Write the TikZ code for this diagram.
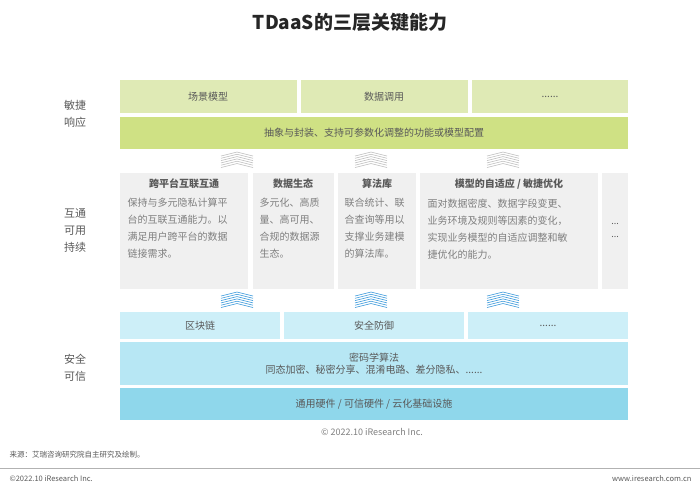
\documentclass[tikz,border=0pt]{standalone}
\usepackage{fontspec}
\setmainfont{Noto Sans CJK SC}
\newfontfamily\cjkb[FakeBold=2]{Noto Sans CJK SC Bold}
\definecolor{gA}{HTML}{DFEAB5}
\definecolor{gB}{HTML}{CFE184}
\definecolor{gC}{HTML}{F0F0F0}
\definecolor{bA}{HTML}{CDEFF8}
\definecolor{bB}{HTML}{B7E7F4}
\definecolor{bC}{HTML}{8FD7EB}
\definecolor{tx}{HTML}{595959}
\definecolor{tl}{HTML}{7F7F7F}
\tikzset{
 lbl/.style={text=tx,font=\fontsize{10}{12}\selectfont},
 ttl/.style={text=tx,font=\fontsize{10}{12}\selectfont\bfseries},
 body/.style={text=tl,font=\fontsize{10}{17}\selectfont,align=left,anchor=north west},
 side/.style={text=tx,font=\fontsize{11}{17}\selectfont,align=center},
}
\newcommand{\chev}[3]{% x y color
 \foreach \k in {0,...,5}{\draw[#3,line width=0.6pt] ({#1-16},{#2+4+\k*2.3}) -- ({#1},{#2+\k*2.3}) -- ({#1+16},{#2+4+\k*2.3});}}
\begin{document}
\begin{tikzpicture}[x=1pt,y=-1pt]
\useasboundingbox (0,0) rectangle (700,491);
\node[font=\fontsize{19}{22}\selectfont\bfseries,text=black!85] (title) at (350,22) {TDaaS的三层关键能力};
% top layer
\fill[gA] (120,80) rectangle (297,113); \node[lbl] (t1) at (208,97) {场景模型};
\fill[gA] (301,80) rectangle (468,113); \node[lbl] (t2) at (384,97) {数据调用};
\fill[gA] (472,80) rectangle (628,113); \node[lbl] (t3) at (550,97) {......};
\fill[gB] (120,117) rectangle (628,149); \node[lbl] (t4) at (374,133) {抽象与封装、支持可参数化调整的功能或模型配置};
\node[side] (s1) at (75,114) {敏捷\\响应};
% chevrons
\chev{237}{152}{gray!50}\chev{371}{152}{gray!50}\chev{503}{152}{gray!50}
\chev{237}{292}{cyan!70!blue!80}\chev{371}{292}{cyan!70!blue!80}\chev{503}{292}{cyan!70!blue!80}
% middle
\fill[gC] (120,173) rectangle (248,289);
\fill[gC] (253,173) rectangle (334,289);
\fill[gC] (338,173) rectangle (416,289);
\fill[gC] (420,173) rectangle (598,289);
\fill[gC] (602,173) rectangle (628,289);
\node[ttl] (m1) at (184,184) {跨平台互联互通};
\node[ttl] (m2) at (293,184) {数据生态};
\node[ttl] (m3) at (377,184) {算法库};
\node[ttl] (m4) at (509,184) {模型的自适应 / 敏捷优化};
\node[body] (b1) at (124,195) {保持与多元隐私计算平\\台的互联互通能力。以\\满足用户跨平台的数据\\链接需求。};
\node[body] (b2) at (256,195) {多元化、高质\\量、高可用、\\合规的数据源\\生态。};
\node[body] (b3) at (341,195) {联合统计、联\\合查询等用以\\支撑业务建模\\的算法库。};
\node[body] (b4) at (424,195) {面对数据密度、数据字段变更、\\业务环境及规则等因素的变化，\\实现业务模型的自适应调整和敏\\捷优化的能力。};
\node[text=tx,font=\fontsize{9}{9}\selectfont,inner sep=0pt] (b5) at (615,224) {...};
\node[text=tx,font=\fontsize{9}{9}\selectfont,inner sep=0pt] (b6) at (615,237) {...};
\node[side] (s2) at (75,231) {互通\\可用\\持续};
% bottom
\fill[bA] (120,312) rectangle (280,339); \node[lbl] (u1) at (200,326) {区块链};
\fill[bA] (284,312) rectangle (464,339); \node[lbl] (u2) at (374,326) {安全防御};
\fill[bA] (468,312) rectangle (628,339); \node[lbl] (u3) at (548,326) {......};
\fill[bB] (120,342) rectangle (628,385);
\node[lbl,align=center] (u4) at (374,364) {密码学算法\\同态加密、秘密分享、混淆电路、差分隐私、......};
\fill[bC] (120,388) rectangle (628,420); \node[lbl] (u5) at (374,404) {通用硬件 / 可信硬件 / 云化基础设施};
\node[side] (s3) at (75,368) {安全\\可信};
\node[text=tl,font=\fontsize{9}{11}\selectfont] (c) at (372,432) {© 2022.10 iResearch Inc.};
\node[text=tx,font=\fontsize{7.5}{9}\selectfont,anchor=west] (src) at (6,455) {来源：艾瑞咨询研究院自主研究及绘制。};
\draw[gray!60,line width=0.6pt] (0,468) -- (700,468);
\node[text=tx,font=\fontsize{7.5}{9}\selectfont,anchor=west] (f1) at (6,479) {©2022.10 iResearch Inc.};
\node[text=tx,font=\fontsize{7.5}{9}\selectfont,anchor=east] (f2) at (695,479) {www.iresearch.com.cn};
\end{tikzpicture}
\end{document}
